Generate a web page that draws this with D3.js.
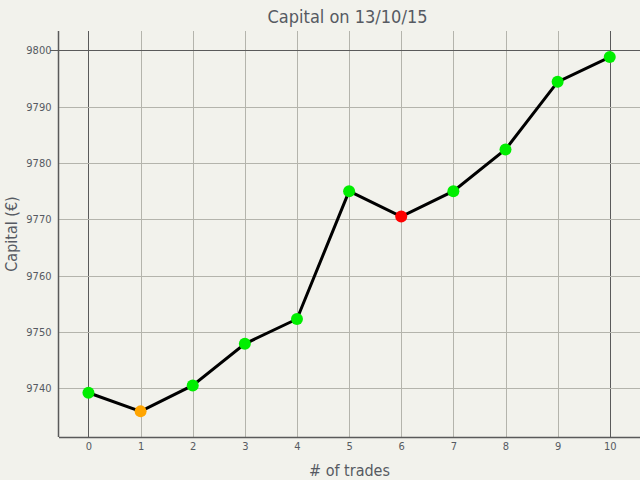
<!DOCTYPE html>
<html>
<head>
<meta charset="utf-8">
<script src="https://cdn.jsdelivr.net/npm/d3@7/dist/d3.min.js"></script>
<style>
  html, body { margin: 0; padding: 0; background: #f2f2ec; }
  svg { display: block; }
  text { font-family: "DejaVu Sans Condensed", "DejaVu Sans", sans-serif; fill: #565a62; }
</style>
</head>
<body>
<svg id="chart" width="640" height="480"></svg>
<script>
const trades = [0, 1, 2, 3, 4, 5, 6, 7, 8, 9, 10];
const capital = [9739.2, 9735.9, 9740.5, 9747.9, 9752.3, 9775.0, 9770.5, 9775.0, 9782.4, 9794.4, 9798.8];
const pointColors = ["#00ee00", "#ffa500", "#00ee00", "#00ee00", "#00ee00", "#00ee00", "#ff0000", "#00ee00", "#00ee00", "#00ee00", "#00ee00"];
const xTicks = [0, 1, 2, 3, 4, 5, 6, 7, 8, 9, 10];
const yTicks = [9740, 9750, 9760, 9770, 9780, 9790, 9800];
const titleText = "Capital on 13/10/15";
const xTitle = "# of trades";
const yTitle = "Capital (€)";

const W = 640, H = 480;
const m = { left: 59, right: 0, top: 31, bottom: 43 };
const svg = d3.select("#chart");
svg.append("rect").attr("width", W).attr("height", H).attr("fill", "#f2f2ec");

const x = d3.scaleLinear().domain([-0.565, 10.58]).range([m.left, W - m.right]);
const y = d3.scaleLinear().domain([9731.35, 9803.43]).range([H - m.bottom, m.top]);

const g = svg.append("g");

// grid
g.selectAll(".vg").data(xTicks).enter().append("line")
  .attr("x1", d => Math.round(x(d)) + 0.5).attr("x2", d => Math.round(x(d)) + 0.5)
  .attr("y1", m.top).attr("y2", H - m.bottom)
  .attr("stroke", d => (d === 0 || d === 10) ? "#5a5a5a" : "#b4b4ac").attr("stroke-width", 1);
g.selectAll(".hg").data(yTicks).enter().append("line")
  .attr("x1", d => d === 9800 ? m.left - 9 : m.left).attr("x2", W)
  .attr("y1", d => Math.round(y(d)) + 0.5).attr("y2", d => Math.round(y(d)) + 0.5)
  .attr("stroke", d => d === 9800 ? "#5a5a5a" : "#b4b4ac").attr("stroke-width", 1);

// axes lines
const xAxis = d3.axisBottom(x).tickValues(xTicks).tickSize(0).tickPadding(5).tickFormat(d3.format("d"));
const yAxis = d3.axisLeft(y).tickValues(yTicks).tickSize(0).tickPadding(7).tickFormat(d3.format("d"));
const gx = svg.append("g").attr("transform", `translate(0,${H - m.bottom + 0.5})`).call(xAxis);
const gy = svg.append("g").attr("transform", `translate(${m.left - 0.5},0)`).call(yAxis);
[gx, gy].forEach(a => {
  a.select(".domain").attr("stroke", "#5a5a5a").attr("stroke-width", 1.5);
  a.selectAll("text").style("font-size", "11px").attr("fill", "#565a62");
});
gx.select(".domain").attr("d", `M${m.left},0H${W}`);
gy.select(".domain").attr("d", `M0,${m.top}V${H - m.bottom}`);

// line
const line = d3.line().x((d, i) => x(trades[i])).y(d => y(d));
svg.append("path").datum(capital).attr("d", line)
  .attr("fill", "none").attr("stroke", "#000").attr("stroke-width", 3).attr("stroke-linejoin", "miter");

svg.selectAll(".pt").data(capital).enter().append("circle")
  .attr("cx", (d, i) => x(trades[i])).attr("cy", d => y(d)).attr("r", 6)
  .attr("fill", (d, i) => pointColors[i]);

// titles
const cx = (m.left + W - m.right) / 2;
svg.append("text").attr("x", cx - 2).attr("y", 23).attr("text-anchor", "middle")
  .style("font-size", "18px").text(titleText);
svg.append("text").attr("x", cx).attr("y", 476).attr("text-anchor", "middle")
  .style("font-size", "16px").text(xTitle);
svg.append("text").attr("transform", `translate(17,${(m.top + H - m.bottom) / 2}) rotate(-90)`)
  .attr("text-anchor", "middle").style("font-size", "16px").text(yTitle);
</script>
</body>
</html>
